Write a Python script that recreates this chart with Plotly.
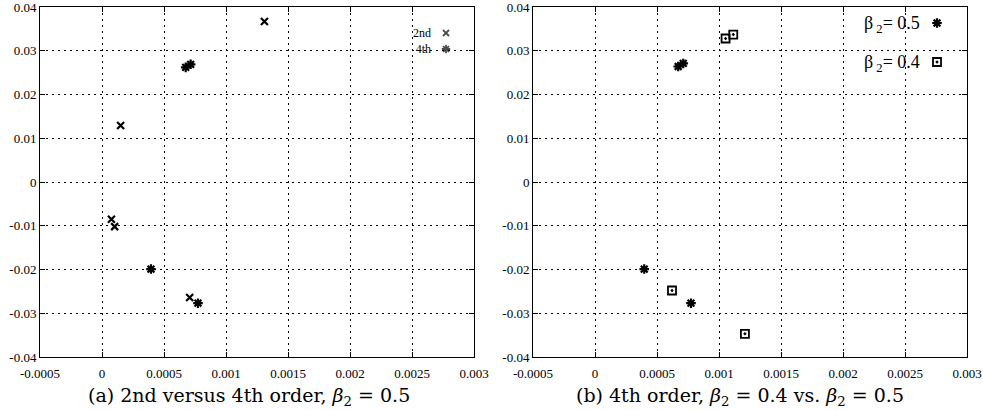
import plotly.graph_objects as go

# Panel (a): 2nd vs 4th order, beta2 = 0.5
second_x = [0.00131, 0.000150, 0.000076, 0.000102, 0.000707]
second_y = [0.0367, 0.0129, -0.0085, -0.0102, -0.0264]
fourth_x = [0.000675, 0.000715, 0.000395, 0.000774]
fourth_y = [0.0262, 0.0269, -0.0199, -0.0277]

# Panel (b): 4th order, beta2 = 0.4 vs 0.5
b05_x = [0.000671, 0.000712, 0.000397, 0.000774]
b05_y = [0.0264, 0.0271, -0.0199, -0.0277]
b04_x = [0.001053, 0.001115, 0.000621, 0.001209]
b04_y = [0.0328, 0.0337, -0.0248, -0.0347]

x_ticks = [-0.0005, 0, 0.0005, 0.001, 0.0015, 0.002, 0.0025, 0.003]
x_labels = ["-0.0005", "0", "0.0005", "0.001", "0.0015", "0.002", "0.0025", "0.003"]
y_ticks = [-0.04, -0.03, -0.02, -0.01, 0, 0.01, 0.02, 0.03, 0.04]
y_labels = ["-0.04", "-0.03", "-0.02", "-0.01", "0", "0.01", "0.02", "0.03", "0.04"]

legend_a = ["2nd", "4th"]
captions = ["(a) 2nd versus 4th order, <i>β</i><sub>2</sub> = 0.5",
            "(b) 4th order, <i>β</i><sub>2</sub> = 0.4 vs. <i>β</i><sub>2</sub> = 0.5"]

fig = go.Figure()

x_marker = dict(symbol="x-thin-open", size=7, color="black", line=dict(color="black", width=2.2))
ast_marker = dict(symbol="asterisk-open", size=8, color="black", line=dict(color="black", width=2.2))
sq_marker = dict(symbol="square-open-dot", size=8, color="black", line=dict(color="black", width=1.8))

fig.add_trace(go.Scatter(x=second_x, y=second_y, mode="markers", marker=x_marker,
                         xaxis="x", yaxis="y", showlegend=False))
fig.add_trace(go.Scatter(x=fourth_x, y=fourth_y, mode="markers", marker=ast_marker,
                         xaxis="x", yaxis="y", showlegend=False))
fig.add_trace(go.Scatter(x=b05_x, y=b05_y, mode="markers", marker=ast_marker,
                         xaxis="x2", yaxis="y2", showlegend=False))
fig.add_trace(go.Scatter(x=b04_x, y=b04_y, mode="markers", marker=sq_marker,
                         xaxis="x2", yaxis="y2", showlegend=False))

W, H = 983, 410
ml, mr, mt, mb = 40, 16, 7, 53
pw, ph = W - ml - mr, H - mt - mb

def px(xpix):
    return (xpix - ml) / pw

def py(ypix):
    return 1 - (ypix - mt) / ph

# legend key markers on a transparent full-area helper subplot
fig.add_trace(go.Scatter(x=[px(446), px(446)], y=[py(33), py(49)], mode="markers",
                         marker=dict(symbol=["x-thin-open", "asterisk-open"], size=[6, 7],
                                     color="black", line=dict(color="black", width=1.8)),
                         xaxis="x3", yaxis="y3", showlegend=False, cliponaxis=False))
fig.add_trace(go.Scatter(x=[px(937)], y=[py(23)], mode="markers", marker=ast_marker,
                         xaxis="x3", yaxis="y3", showlegend=False, cliponaxis=False))
fig.add_trace(go.Scatter(x=[px(937)], y=[py(62)], mode="markers", marker=sq_marker,
                         xaxis="x3", yaxis="y3", showlegend=False, cliponaxis=False))

tickfont = dict(family="Liberation Serif", size=13, color="black")
common = dict(showline=True, linecolor="black", linewidth=1, mirror="ticks",
              ticks="inside", ticklen=5, tickcolor="black", showgrid=True,
              gridcolor="black", gridwidth=1, griddash="2px,4px", zeroline=False,
              tickfont=tickfont, ticklabeloverflow="allow", automargin=False)

d1 = (0, 434 / pw)
d2 = ((533 - ml) / pw, 1)

fig.update_layout(
    width=W, height=H,
    margin=dict(l=ml, r=mr, t=mt, b=mb, autoexpand=False),
    paper_bgcolor="white", plot_bgcolor="rgba(0,0,0,0)",
    showlegend=False,
    xaxis=dict(domain=d1, range=[-0.0005, 0.003], tickvals=x_ticks, ticktext=x_labels,
               anchor="y", ticklabelstandoff=4, **common),
    yaxis=dict(domain=[0, 1], range=[-0.04, 0.04], tickvals=y_ticks, ticktext=y_labels,
               anchor="x", **common),
    xaxis2=dict(domain=d2, range=[-0.0005, 0.003], tickvals=x_ticks, ticktext=x_labels,
                anchor="y2", ticklabelstandoff=4, **common),
    yaxis2=dict(domain=[0, 1], range=[-0.04, 0.04], tickvals=y_ticks, ticktext=y_labels,
                anchor="x2", **common),
    xaxis3=dict(domain=[0, 1], range=[0, 1], visible=False, anchor="y3", automargin=False),
    yaxis3=dict(domain=[0, 1], range=[0, 1], visible=False, anchor="x3", automargin=False),
)

# legend texts
fig.add_annotation(x=px(433), y=py(41), xref="paper", yref="paper", text="<br>".join(legend_a),
                   showarrow=False, xanchor="right", yanchor="middle", align="right",
                   font=dict(family="Liberation Serif", size=12, color="black"))
fig.add_annotation(x=px(922), y=py(24), xref="paper", yref="paper", text="β<sub> 2</sub>= 0.5",
                   showarrow=False, xanchor="right", yanchor="middle",
                   font=dict(family="Liberation Serif", size=18, color="black"))
fig.add_annotation(x=px(922), y=py(63), xref="paper", yref="paper", text="β<sub> 2</sub>= 0.4",
                   showarrow=False, xanchor="right", yanchor="middle",
                   font=dict(family="Liberation Serif", size=18, color="black"))

# captions
for cx, cap in zip([249, 740], captions):
    fig.add_annotation(x=px(cx), y=py(396), xref="paper", yref="paper", text=cap,
                       showarrow=False, xanchor="center", yanchor="middle",
                       font=dict(family="DejaVu Serif", size=19, color="black"))

fig.write_html("out.html")
